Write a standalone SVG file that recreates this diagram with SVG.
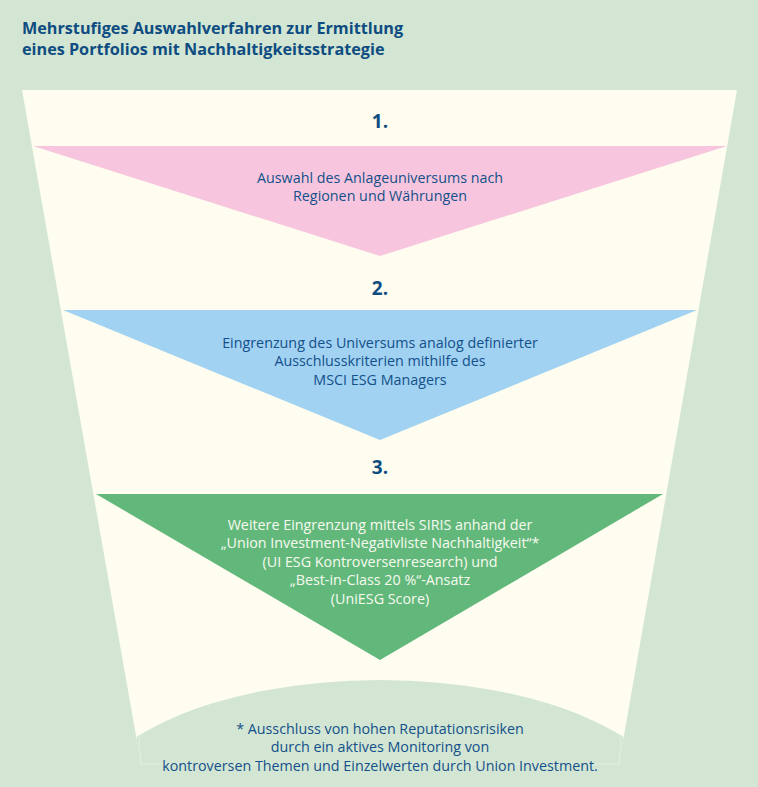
<svg xmlns="http://www.w3.org/2000/svg" width="758" height="787" viewBox="0 0 758 787">
<defs>
<style>
.title{font-family:"Open Sans","Noto Sans","Liberation Sans",sans-serif;font-weight:700;font-size:16.2px;fill:#0f4c81}
.num{font-family:"Open Sans","Noto Sans","Liberation Sans",sans-serif;font-weight:700;font-size:19px;fill:#0f4c81;text-anchor:middle}
.body{font-family:"Open Sans","Noto Sans","Liberation Sans",sans-serif;font-size:14.3px;fill:#14508a;text-anchor:middle}
.white{fill:#f7faef}
</style>
<clipPath id="funnelClip"><polygon points="22,90 737,90 619,764 141,764"/></clipPath>
</defs>
<rect x="0" y="0" width="758" height="787" fill="#d2e6d3"/>
<g id="title">
<text class="title" x="22" y="34">Mehrstufiges Auswahlverfahren zur Ermittlung</text>
<text class="title" x="22" y="55">eines Portfolios mit Nachhaltigkeitsstrategie</text>
</g>
<g id="funnel">
<polygon points="22,90 737,90 619,764 141,764" fill="#fefdf0"/>
<g clip-path="url(#funnelClip)">
<ellipse cx="380" cy="817" rx="300" ry="137" fill="#d2e6d3"/>
</g>
<polyline points="139,735 141,764 619,764 621,735" fill="none" stroke="#e2eedf" stroke-width="1"/>
</g>
<g id="step1">
<text class="num" x="380" y="128">1.</text>
<polygon points="33,146 727,146 380,256" fill="#f7c6de"/>
<text class="body" x="380" y="183">Auswahl des Anlageuniversums nach</text>
<text class="body" x="380" y="201">Regionen und Währungen</text>
</g>
<g id="step2">
<text class="num" x="380" y="295">2.</text>
<polygon points="63,310 697,310 380,440" fill="#a1d2f2"/>
<text class="body" x="380" y="348">Eingrenzung des Universums analog definierter</text>
<text class="body" x="380" y="366">Ausschlusskriterien mithilfe des</text>
<text class="body" x="380" y="385">MSCI ESG Managers</text>
</g>
<g id="step3">
<text class="num" x="380" y="474">3.</text>
<polygon points="96,494 663,494 380,660" fill="#62b87b"/>
<text class="body white" x="380" y="530">Weitere Eingrenzung mittels SIRIS anhand der</text>
<text class="body white" x="380" y="548">„Union Investment-Negativliste Nachhaltigkeit“*</text>
<text class="body white" x="380" y="567">(UI ESG Kontroversenresearch) und</text>
<text class="body white" x="380" y="585">„Best-in-Class 20 %“-Ansatz</text>
<text class="body white" x="380" y="604">(UniESG Score)</text>
</g>
<g id="footnote">
<text class="body" x="380" y="734">* Ausschluss von hohen Reputationsrisiken</text>
<text class="body" x="380" y="752">durch ein aktives Monitoring von</text>
<text class="body" x="380" y="771">kontroversen Themen und Einzelwerten durch Union Investment.</text>
</g>
</svg>
